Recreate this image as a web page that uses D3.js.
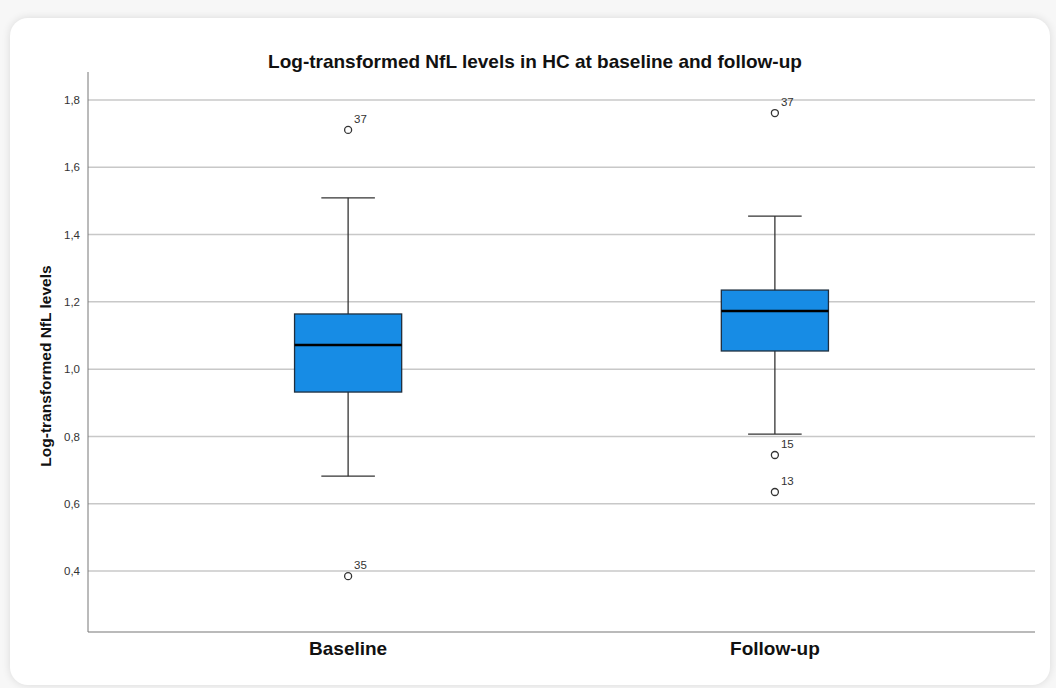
<!DOCTYPE html>
<html>
<head>
<meta charset="utf-8">
<script src="https://cdn.jsdelivr.net/npm/d3@7"></script>
<style>
  body { margin: 0; background: #f7f7f7; font-family: "Liberation Sans", Arial, sans-serif; }
  #card { position: absolute; left: 10px; top: 18px; width: 1040px; height: 667px; background: #fff;
          border-radius: 18px; box-shadow: 0 0 8px rgba(0,0,0,0.12); }
  svg { position: absolute; left: 0; top: 0; }
</style>
</head>
<body>
<div id="card"></div>
<div id="chart"></div>
<script>
var categories = ["Baseline", "Follow-up"];
var q1 = [0.932, 1.054];
var median = [1.072, 1.173];
var q3 = [1.164, 1.235];
var whiskerLow = [0.682, 0.807];
var whiskerHigh = [1.509, 1.455];
var outliers = [
  {group: "Baseline", value: 1.711, label: "37"},
  {group: "Baseline", value: 0.385, label: "35"},
  {group: "Follow-up", value: 1.761, label: "37"},
  {group: "Follow-up", value: 0.745, label: "15"},
  {group: "Follow-up", value: 0.635, label: "13"}
];
var yTicks = [0.4, 0.6, 0.8, 1.0, 1.2, 1.4, 1.6, 1.8];

var width = 1056, height = 688;
var plotLeft = 88, plotRight = 1035, plotTop = 72, plotBottom = 632;

var svg = d3.select("#chart").append("svg")
    .attr("width", width)
    .attr("height", height);

var y = d3.scaleLinear().domain([0.219, 1.883]).range([plotBottom, plotTop]);
var x = d3.scaleBand().domain(categories).range([plotLeft, plotRight]).paddingInner(0.749).paddingOuter(0.484);

// gridlines
svg.append("g").selectAll("line")
    .data(yTicks).enter().append("line")
    .attr("x1", plotLeft).attr("x2", plotRight)
    .attr("y1", function(d){ return y(d); })
    .attr("y2", function(d){ return y(d); })
    .style("stroke", "#c8c8c8")
    .style("stroke-width", 1.5);

// y axis
var yAxis = svg.append("g")
    .attr("transform", "translate(" + plotLeft + ",0)")
    .call(d3.axisLeft(y).tickValues(yTicks).tickSize(0).tickPadding(8)
        .tickFormat(function(d){ return d3.format(".1f")(d).replace(".", ","); }));
yAxis.select(".domain").remove();
yAxis.selectAll("text").style("font-size", "11.5px").style("fill", "#333")
    .style("font-family", "Liberation Sans, Arial, sans-serif");

// axis lines
svg.append("line").attr("x1", plotLeft).attr("x2", plotLeft).attr("y1", plotTop).attr("y2", plotBottom)
    .style("stroke", "#777").style("stroke-width", 1);
svg.append("line").attr("x1", plotLeft).attr("x2", plotRight).attr("y1", plotBottom).attr("y2", plotBottom)
    .style("stroke", "#777").style("stroke-width", 1.2);

// x labels
var xAxis = svg.append("g")
    .attr("transform", "translate(0," + plotBottom + ")")
    .call(d3.axisBottom(x).tickSize(0).tickPadding(10));
xAxis.select(".domain").remove();
xAxis.selectAll("text").style("font-size", "19px").style("font-weight", "bold")
    .style("fill", "#111").style("font-family", "Liberation Sans, Arial, sans-serif");

var data = categories.map(function(c, i){
    return {cat: c, q1: q1[i], med: median[i], q3: q3[i], lo: whiskerLow[i], hi: whiskerHigh[i]};
});

var boxes = svg.append("g").selectAll("g")
    .data(data).enter().append("g");

function cx(d){ return x(d.cat) + x.bandwidth() / 2; }

// whiskers
boxes.append("line")
    .attr("x1", cx).attr("x2", cx)
    .attr("y1", function(d){ return y(d.hi); })
    .attr("y2", function(d){ return y(d.lo); })
    .style("stroke", "#333").style("stroke-width", 1.3);
["hi", "lo"].forEach(function(k){
    boxes.append("line")
        .attr("x1", function(d){ return cx(d) - x.bandwidth() / 4; })
        .attr("x2", function(d){ return cx(d) + x.bandwidth() / 4; })
        .attr("y1", function(d){ return y(d[k]); })
        .attr("y2", function(d){ return y(d[k]); })
        .style("stroke", "#333").style("stroke-width", 1.3);
});

// box
boxes.append("rect")
    .attr("x", function(d){ return x(d.cat); })
    .attr("y", function(d){ return y(d.q3); })
    .attr("width", x.bandwidth())
    .attr("height", function(d){ return y(d.q1) - y(d.q3); })
    .style("fill", "#178ce5")
    .style("stroke", "#1f2f3f")
    .style("stroke-width", 1.3);

// median
boxes.append("line")
    .attr("x1", function(d){ return x(d.cat); })
    .attr("x2", function(d){ return x(d.cat) + x.bandwidth(); })
    .attr("y1", function(d){ return y(d.med); })
    .attr("y2", function(d){ return y(d.med); })
    .style("stroke", "#000").style("stroke-width", 2.5);

// outliers
var out = svg.append("g").selectAll("g")
    .data(outliers).enter().append("g")
    .attr("transform", function(d){
        return "translate(" + (x(d.group) + x.bandwidth() / 2) + "," + y(d.value) + ")";
    });
out.append("circle")
    .attr("r", 3.5)
    .style("fill", "#fff").style("stroke", "#333").style("stroke-width", 1.3);
out.append("text")
    .attr("x", 6).attr("y", -7)
    .text(function(d){ return d.label; })
    .style("font-size", "11.5px").style("fill", "#333");

// title
svg.append("text")
    .attr("x", 535).attr("y", 68)
    .attr("text-anchor", "middle")
    .text("Log-transformed NfL levels in HC at baseline and follow-up")
    .style("font-size", "19px").style("font-weight", "bold").style("fill", "#111");

// y label
svg.append("text")
    .attr("transform", "translate(51,366) rotate(-90)")
    .attr("text-anchor", "middle")
    .text("Log-transformed NfL levels")
    .style("font-size", "15.5px").style("font-weight", "bold").style("fill", "#111");
</script>
</body>
</html>
